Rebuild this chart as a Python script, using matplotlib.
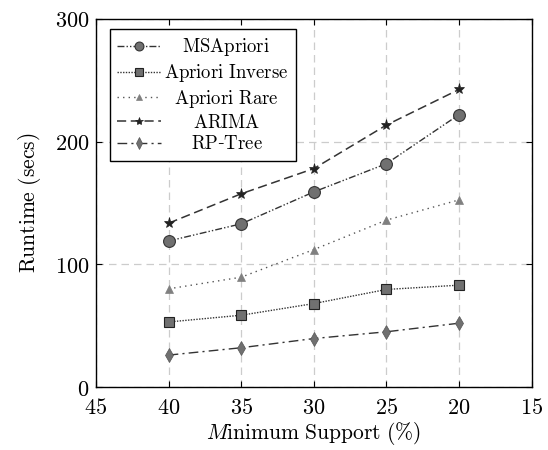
import matplotlib
matplotlib.use('Agg')
import matplotlib.pyplot as plt
from matplotlib.ticker import FuncFormatter
from matplotlib.transforms import Affine2D

plt.rcParams['mathtext.fontset'] = 'cm'
plt.rcParams['font.family'] = 'serif'
plt.rcParams['font.serif'] = ['DejaVu Serif']

# minimum support thresholds (%) and runtimes (secs)
support = [40, 35, 30, 25, 20]
msapriori = [119, 133, 159, 182, 222]
apriori_inverse = [53, 58.5, 68, 79.5, 83]
apriori_rare = [80, 89.5, 112, 136, 152.5]
arima = [133.5, 157.5, 178, 213.5, 242.5]
rp_tree = [26, 32, 39.5, 45, 52]

fig = plt.figure(figsize=(5.48, 4.5), dpi=100)
ax = fig.add_axes([0.1752, 0.14, 0.7950, 0.818])

mfc = '#707070'
ax.plot(support, msapriori, color='#333333', lw=1.0, ls=(0, (5, 1.5, 1, 1.5, 1, 1.5)),
        marker='o', ms=8.5, mfc=mfc, mec='#333333', mew=0.8, label=r'$\mathrm{MSApriori}$')
ax.plot(support, apriori_inverse, color='#333333', lw=1.0, ls=(0, (1, 1)),
        marker='s', ms=7.5, mfc=mfc, mec='#222222', mew=0.8, label=r'$\mathrm{Apriori\ Inverse}$')
ax.plot(support, apriori_rare, color='#555555', lw=1.0, ls=(0, (1, 3)),
        marker='^', ms=5.5, mfc='#808080', mec='#808080', mew=0.5, label=r'$\mathrm{Apriori\ Rare}$')
ax.plot(support, arima, color='#333333', lw=1.1, ls=(0, (6, 3)),
        marker='*', ms=8, mfc='#222222', mec='#222222', mew=0.5, label=r'$\mathrm{ARIMA}$')
ax.plot(support, rp_tree, color='#333333', lw=1.0, ls=(0, (7, 3, 1.5, 3)),
        marker='d', ms=7.5, mfc=mfc, mec='#555555', mew=0.5, label=r'$\mathrm{RP}$-$\mathrm{Tree}$')

ax.set_xlim(45, 15)
ax.set_ylim(0, 300)
ax.set_xticks([45, 40, 35, 30, 25, 20, 15])
ax.set_yticks([0, 100, 200, 300])
fmt = FuncFormatter(lambda v, p: r'$\mathrm{%d}$' % v)
ax.xaxis.set_major_formatter(fmt)
ax.yaxis.set_major_formatter(fmt)
ax.tick_params(direction='in', top=True, right=True, length=4, width=0.8,
               labelsize=16, pad=5)
ax.tick_params(axis='x', pad=7)
ax.grid(True, ls=(0, (6, 4)), color='#cccccc', lw=0.9)
ax.set_axisbelow(True)
for s in ax.spines.values():
    s.set_linewidth(1.0)

ax.set_xlabel(r'$M\mathrm{inimum\ Support\ (\%)}$', fontsize=15.5, labelpad=1)
ax.set_ylabel(r'$\mathrm{Runtime\ (secs)}$', fontsize=15.5, labelpad=8)

leg = ax.legend(loc='upper left', bbox_to_anchor=(0.032, 0.973), fontsize=13.5,
                frameon=True, fancybox=False, edgecolor='black', framealpha=1,
                handlelength=2.3, labelspacing=0.2, borderpad=0.4, handletextpad=0.2,
                borderaxespad=0, markerscale=0.75)
leg.get_frame().set_linewidth(1.0)

# centre the legend entries within the text column
fig.canvas.draw()
r = fig.canvas.get_renderer()
texts = leg.get_texts()
widths = [t.get_window_extent(r).width for t in texts]
wmax = max(widths)
for t, w in zip(texts, widths):
    t.set_transform(t.get_transform() + Affine2D().translate((wmax - w) / 2, 0))

fig.savefig('out.png', dpi=100)
